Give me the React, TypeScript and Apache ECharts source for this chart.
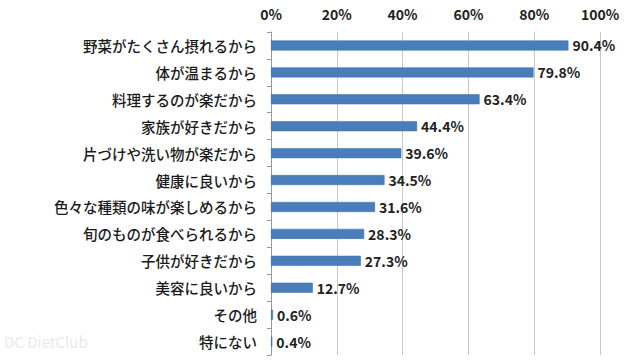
import React, { useEffect, useRef } from "react";
import * as echarts from "echarts";

const categories = [
  "野菜がたくさん摂れるから",
  "体が温まるから",
  "料理するのが楽だから",
  "家族が好きだから",
  "片づけや洗い物が楽だから",
  "健康に良いから",
  "色々な種類の味が楽しめるから",
  "旬のものが食べられるから",
  "子供が好きだから",
  "美容に良いから",
  "その他",
  "特にない",
];
const values = [90.4, 79.8, 63.4, 44.4, 39.6, 34.5, 31.6, 28.3, 27.3, 12.7, 0.6, 0.4];

export default function App() {
  const ref = useRef<HTMLDivElement>(null);
  useEffect(() => {
    const chart = echarts.init(ref.current!, null, { renderer: "svg" });
    const font = "'Noto Sans CJK JP', 'Noto Sans', sans-serif";
    chart.setOption({
      animation: false,
      backgroundColor: "#ffffff",
      grid: { left: 271, right: 40, top: 32, bottom: 7, containLabel: false },
      xAxis: {
        type: "value",
        position: "top",
        min: 0,
        max: 100,
        interval: 20,
        axisLine: { show: false },
        axisTick: { show: false },
        axisLabel: {
          formatter: "{value}%",
          fontFamily: font,
          fontWeight: "bold",
          fontSize: 14,
          color: "#222",
          margin: 11,
        },
        splitLine: { show: true, lineStyle: { color: "#c8c8c8", width: 1 } },
      },
      yAxis: {
        type: "category",
        data: categories,
        inverse: true,
        axisLine: { show: true, lineStyle: { color: "#999" } },
        axisTick: { show: true, length: 4, lineStyle: { color: "#999" } },
        axisLabel: {
          fontFamily: font,
          fontSize: 14.5,
          fontWeight: 500,
          color: "#1a1a1a",
          margin: 14,
        },
      },
      series: [
        {
          type: "bar",
          data: values,
          barWidth: 10,
          itemStyle: { color: "#4a7ebb", borderColor: "#3a6aa5", borderWidth: 0.5 },
          label: {
            show: true,
            position: "right",
            distance: 4,
            formatter: (p: any) => p.value.toFixed(1) + "%",
            fontFamily: font,
            fontWeight: "bold",
            fontSize: 14,
            color: "#222",
          },
        },
      ],
      graphic: [
        {
          type: "text",
          left: 4,
          top: 334,
          style: {
            text: "DC DietClub",
            fontFamily: font,
            fontSize: 15,
            fill: "rgba(215,215,215,0.55)",
          },
        },
      ],
    });
    return () => chart.dispose();
  }, []);
  return <div ref={ref} style={{ width: 640, height: 362, position: "absolute", left: 0, top: 0 }} />;
}
